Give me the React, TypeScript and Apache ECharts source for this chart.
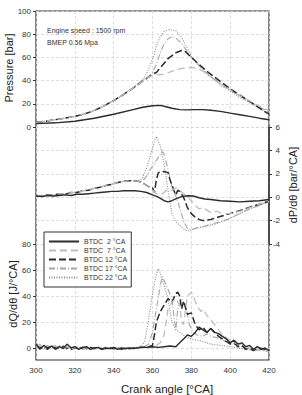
import { useEffect, useRef } from "react";
import * as echarts from "echarts";

const NAMES = ["BTDC  2 °CA", "BTDC  7 °CA", "BTDC 12 °CA", "BTDC 17 °CA", "BTDC 22 °CA"];
const X_MIN = 300;
const X_MAX = 420;
const X_STEP = 20;

// Pressure [bar]
const P_MOTORED = [[300, 4], [305, 5], [310, 6.3], [315, 7.6], [320, 9.2], [325, 11.3], [330, 14.2], [335, 18.2], [340, 22.8], [345, 28], [350, 33.5]];
const P_2 = [[300, 2.9], [310, 3.6], [320, 4.9], [330, 7.5], [340, 11], [350, 15], [355, 17], [360, 18.3], [364, 18.6], [367, 17.5], [370, 16.2], [374, 15], [378, 14.8], [382, 15], [386, 15], [390, 14.4], [395, 13.5], [400, 12], [405, 10.6], [410, 9.2], [415, 7.6], [420, 6.3]];
const P_7 = [[355, 39.5], [358, 43], [360, 44.5], [363, 45], [366, 45.5], [370, 48], [375, 50.5], [380, 51.5], [384, 50], [388, 46], [392, 41], [396, 36], [400, 32], [405, 27], [410, 22.5], [415, 18], [420, 14]];
const P_12 = [[355, 39.5], [358, 43], [360, 45.5], [362, 47], [365, 53], [368, 59], [372, 64], [375, 66], [377, 65], [380, 60], [384, 54], [388, 48], [392, 43], [396, 38], [400, 33], [405, 27.5], [410, 22], [415, 16.5], [420, 11]];
const P_17 = [[355, 40], [358, 43.5], [360, 47], [362, 54], [364, 64], [366, 72], [368, 76], [370, 78], [372, 77], [375, 72], [378, 65], [380, 60], [384, 53], [388, 46], [392, 41], [396, 36], [400, 32], [405, 26.5], [410, 22], [415, 17], [420, 13]];
const P_22 = [[353, 38.5], [355, 41], [357, 46], [360, 58], [362, 70], [364, 78], [366, 82.5], [369, 84], [372, 83], [375, 77], [378, 68], [380, 61], [384, 53], [388, 46], [392, 40.5], [396, 35], [400, 31], [405, 25.5], [410, 21], [415, 16], [420, 11.5]];

// dP/dθ [bar/°CA]
const D_MOTORED = [[300, 0.15], [303, 0.1], [306, 0.2], [309, 0.15], [312, 0.3], [315, 0.25], [318, 0.4], [321, 0.4], [324, 0.55], [327, 0.6], [330, 0.75], [333, 0.85], [336, 1.0], [339, 1.1], [342, 1.25], [345, 1.35], [348, 1.4], [351, 1.4], [353, 1.35]];
const D_2 = [[300, 0.1], [303, 0.05], [306, 0.15], [309, 0.1], [312, 0.15], [315, 0.2], [318, 0.15], [321, 0.25], [324, 0.25], [327, 0.3], [330, 0.35], [333, 0.4], [336, 0.45], [339, 0.5], [342, 0.5], [345, 0.55], [348, 0.55], [351, 0.55], [354, 0.5], [357, 0.4], [360, 0.2], [363, 0], [366, -0.3], [368, -0.4], [370, -0.3], [372, -0.15], [375, 0.05], [378, 0.12], [381, 0.1], [384, -0.05], [387, -0.15], [390, -0.2], [395, -0.3], [400, -0.35], [405, -0.4], [410, -0.35], [415, -0.3], [420, -0.2]];
const D_7 = [[355, 1.2], [357, 1.0], [360, 0.6], [362, 0.3], [364, 0.2], [366, 0.4], [368, 0.7], [370, 0.6], [372, 0.8], [374, 0.6], [376, 0.3], [378, 0.1], [380, -0.3], [382, -0.7], [384, -1.0], [386, -0.9], [388, -1.1], [390, -1.3], [393, -1.2], [396, -1.4], [400, -1.4], [405, -1.2], [410, -0.9], [415, -0.6], [420, -0.35]];
const D_12 = [[355, 1.2], [358, 0.9], [360, 0.8], [361, 0.4], [362, 1.5], [363, 2.1], [366, 2.2], [368, 2.1], [369, 1.5], [371, 0.6], [372, 0.2], [373, 0.6], [374, 0.5], [376, 0], [378, -0.9], [380, -1.4], [382, -1.7], [384, -1.9], [386, -2.0], [390, -1.9], [394, -1.7], [398, -1.5], [402, -1.3], [406, -1.1], [410, -0.85], [415, -0.6], [420, -0.35]];
const D_17 = [[355, 1.4], [357, 1.8], [359, 2.4], [361, 2.9], [363, 3.4], [365, 3.9], [366, 3.7], [368, 2.4], [370, 0.9], [372, 0.1], [374, -0.9], [376, -2.0], [378, -2.7], [380, -2.8], [383, -2.6], [386, -2.5], [390, -2.3], [395, -2.1], [400, -1.8], [405, -1.4], [410, -1.0], [415, -0.7], [420, -0.4]];
const D_22 = [[355, 1.7], [357, 2.5], [359, 3.6], [361, 4.8], [362, 5.2], [364, 4.4], [366, 2.8], [368, 0.6], [370, -1.4], [372, -2.1], [374, -2.4], [376, -2.7], [378, -2.9], [380, -2.8], [384, -2.6], [388, -2.5], [392, -2.3], [396, -2.1], [400, -1.8], [405, -1.4], [410, -1.0], [415, -0.7], [420, -0.35]];

// dQ/dθ [J/°CA]
const Q_2 = [[300, 3], [302, -1], [304, 2], [306, 0], [308, 1.5], [310, -1], [312, 1], [314, -0.5], [316, 3], [318, 0], [320, 1], [322, -1], [324, 0.5], [326, 1], [328, -1], [330, 0], [332, 0.5], [334, -1], [336, 0], [338, -0.5], [340, 0.5], [342, -1], [344, 0], [346, -0.5], [348, 0], [350, -0.5], [352, 0], [354, 0.5], [357, 0.5], [360, 1], [363, 0.5], [366, 1], [369, 1.5], [372, 1], [374, 4], [376, 7], [378, 10], [380, 9], [382, 12], [384, 16], [386, 14], [388, 12], [390, 15], [392, 12], [394, 11], [396, 9], [398, 7], [400, 4], [402, 6], [404, 3], [406, 4], [408, 1], [410, 2], [412, -1], [414, 1], [416, -1], [418, 0], [420, -2]];
const Q_7 = [[300, 1], [302, 3], [304, -1], [306, 1], [308, 0], [310, 2], [312, -1], [314, 0], [316, 1], [318, -1], [320, 0.5], [322, 0], [324, -1], [326, 0.5], [328, 0], [330, -1], [332, 0], [334, 0.5], [336, -0.5], [338, 0], [340, -1], [342, 0], [344, -0.5], [346, 0.5], [348, -0.5], [350, 0], [352, 0.5], [354, 0], [356, 0.5], [358, 0], [360, 1], [362, 2], [364, 4], [366, 10], [367, 20], [368, 30], [370, 35], [372, 38], [374, 33], [375, 20], [376, 18], [377, 30], [378, 40], [380, 43], [381, 40], [383, 32], [385, 28], [386, 30], [388, 25], [390, 22], [392, 18], [394, 14], [396, 10], [398, 8], [400, 6], [402, 4], [405, 3], [408, 1], [410, 0], [413, -2], [416, -1], [420, -3]];
const Q_12 = [[300, 2], [302, 0], [304, 1], [306, -1], [308, 2], [310, 0], [312, -0.5], [314, 1], [316, 0], [318, -1], [320, 0], [322, 1], [324, -0.5], [326, 0], [328, 0.5], [330, -0.5], [332, 0], [334, -1], [336, 0.5], [338, 0], [340, -0.5], [342, 0], [344, -1], [346, 0], [348, -0.5], [350, 0], [352, 0], [354, 0.5], [356, 0.5], [358, 1], [360, 2], [361, 10], [362, 20], [364, 28], [366, 33], [368, 38], [370, 35], [372, 42], [373, 43], [374, 40], [375, 30], [376, 36], [378, 26], [380, 27], [382, 18], [384, 14], [386, 16], [388, 12], [390, 15], [392, 12], [394, 9], [396, 7], [398, 5], [400, 3], [402, 4], [404, 1], [406, 2], [408, -1], [410, 0], [412, -2], [415, 0], [418, -1], [420, -2]];
const Q_17 = [[300, 4], [302, 1], [304, -1], [306, 2], [308, -0.5], [310, 1], [312, 0], [314, 2], [316, -1], [318, 0.5], [320, -0.5], [322, 0], [324, 1], [326, -1], [328, 0], [330, 0.5], [332, -0.5], [334, 0], [336, -1], [338, 0.5], [340, 0], [342, -0.5], [344, 0.5], [346, -1], [348, 0], [350, -0.5], [352, 0.5], [354, 0], [356, 1], [358, 3], [360, 12], [362, 30], [364, 48], [365, 55], [366, 52], [368, 45], [370, 38], [371, 25], [372, 14], [373, 30], [375, 38], [377, 33], [379, 18], [381, 12], [383, 10], [386, 9], [388, 11], [390, 9], [393, 8], [396, 6], [400, 4], [404, 2], [408, 0], [412, -1], [416, -2], [420, -3]];
const Q_22 = [[300, 0], [302, 2], [304, 0.5], [306, -1], [308, 1], [310, -0.5], [312, 2], [314, 0], [316, -1], [318, 1], [320, -0.5], [322, 0.5], [324, 0], [326, -1], [328, 0.5], [330, 0], [332, -0.5], [334, 0.5], [336, 0], [338, -1], [340, 0], [342, 0.5], [344, -0.5], [346, 0], [348, -0.5], [350, 0], [352, 0], [354, 1], [356, 5], [358, 22], [360, 42], [362, 57], [363, 61], [364, 58], [366, 48], [368, 38], [369, 28], [370, 20], [372, 14], [374, 12], [376, 10], [378, 8], [380, 7], [383, 6], [386, 5], [390, 3], [395, 2], [400, 1], [404, 0], [408, -1], [412, -2], [416, -1], [420, -3]];

const PRESSURE = [P_2, P_MOTORED.concat(P_7), P_MOTORED.concat(P_12), P_MOTORED.concat(P_17), P_MOTORED.concat(P_22)];
const DPDT = [D_2, D_MOTORED.concat(D_7), D_MOTORED.concat(D_12), D_MOTORED.concat(D_17), D_MOTORED.concat(D_22)];
const DQDT = [Q_2, Q_7, Q_12, Q_17, Q_22];

const STYLES: any[] = [
  { color: "#2b2b2b", width: 1.4, type: "solid" },
  { color: "#bdbdbd", width: 1.3, type: [7, 4] },
  { color: "#2b2b2b", width: 1.5, type: [7, 3] },
  { color: "#a5a5a5", width: 1.1, type: [6, 2, 1, 2] },
  { color: "#8a8a8a", width: 1.1, type: [1, 1.5] },
];

const FONT = "Liberation Sans, Arial, sans-serif";

export default function App() {
  const ref = useRef<HTMLDivElement>(null);
  useEffect(() => {
    const chart = echarts.init(ref.current!, null, { renderer: "svg" });
    const L = 36;
    const W = 233;
    const grid = [
      { left: L, width: W, top: 11, height: 349, show: true, borderColor: "#333", borderWidth: 1.2, backgroundColor: "transparent" },
      { left: L, width: W, top: 11, height: 116 },
      { left: L, width: W, top: 127, height: 117 },
      { left: L, width: W, top: 244, height: 104 },
    ];
    const split = { show: true, lineStyle: { color: "#d6d6d6", type: [3, 2], width: 0.8 } };
    const tick = { show: true, length: 3, lineStyle: { color: "#333" } };
    const label = { fontSize: 8, color: "#333", fontFamily: FONT };
    const xAxis: any[] = [
      {
        gridIndex: 0, type: "value", min: X_MIN, max: X_MAX, interval: X_STEP,
        axisLine: { show: false }, axisTick: { show: false },
        axisLabel: { ...label, margin: 6 }, splitLine: split,
      },
      ...[1, 2, 3].map((g) => ({ gridIndex: g, type: "value", min: X_MIN, max: X_MAX, interval: X_STEP, show: false })),
    ];
    const yAxis: any[] = [
      { gridIndex: 0, type: "value", min: 0, max: 1, show: false },
      {
        gridIndex: 1, type: "value", min: 0, max: 100, interval: 20, position: "left",
        axisLine: { show: false }, axisTick: tick, axisLabel: { ...label, margin: 5 }, splitLine: split,
      },
      {
        gridIndex: 2, type: "value", min: -4, max: 6, interval: 2, position: "right",
        axisLine: { show: true, lineStyle: { color: "#333", width: 1.5 } }, axisTick: tick,
        axisLabel: { ...label, margin: 11, align: "right" }, splitLine: split,
      },
      {
        gridIndex: 3, type: "value", min: 0, max: 80, interval: 20, position: "left",
        axisLine: { show: false }, axisTick: tick, axisLabel: { ...label, margin: 5 }, splitLine: split,
      },
    ];
    const series: any[] = [];
    const panels = [PRESSURE, DPDT, DQDT];
    panels.forEach((panel, pi) => {
      panel.forEach((data, si) => {
        series.push({
          type: "line",
          name: NAMES[si],
          xAxisIndex: pi + 1,
          yAxisIndex: pi + 1,
          data,
          symbol: "none",
          clip: false,
          z: 3 + (4 - si),
          lineStyle: { ...STYLES[si] },
          itemStyle: { color: STYLES[si].color },
        });
      });
    });
    const titleStyle = (text: string) => ({
      text, font: `11px ${FONT}`, fill: "#222",
      textAlign: "center", textVerticalAlign: "middle", align: "center", verticalAlign: "middle",
    });
    chart.setOption({
      animation: false,
      backgroundColor: "#fff",
      grid, xAxis, yAxis, series,
      legend: {
        data: NAMES,
        orient: "vertical",
        left: 44, top: 232,
        itemWidth: 30, itemHeight: 7, itemGap: 2,
        padding: [6, 4, 6, 4],
        borderColor: "#333", borderWidth: 1,
        backgroundColor: "#fff",
        itemStyle: { color: "transparent", borderWidth: 0, opacity: 0 },
        textStyle: { fontSize: 7, color: "#333", fontFamily: FONT },
        z: 10,
      },
      graphic: [
        { type: "text", x: 47, y: 30, style: { text: "Engine speed : 1500 rpm", font: `7px ${FONT}`, fill: "#333", textVerticalAlign: "middle", verticalAlign: "middle" } },
        { type: "text", x: 47, y: 42, style: { text: "BMEP 0.56 Mpa", font: `7px ${FONT}`, fill: "#333", textVerticalAlign: "middle", verticalAlign: "middle" } },
        { type: "text", x: 8.5, y: 68, rotation: Math.PI / 2, style: titleStyle("Pressure [bar]") },
        { type: "text", x: 13, y: 294, rotation: Math.PI / 2, style: titleStyle("dQ/dθ [J/°CA]") },
        { type: "text", x: 293, y: 185, rotation: Math.PI / 2, style: titleStyle("dP/dθ [bar/°CA]") },
        { type: "text", x: 167, y: 389, style: { ...titleStyle("Crank angle [°CA]"), font: `11.5px ${FONT}` } },
      ],
    });
    return () => chart.dispose();
  }, []);
  return <div ref={ref} style={{ position: "absolute", left: 0, top: 0, width: 302, height: 395 }} />;
}
